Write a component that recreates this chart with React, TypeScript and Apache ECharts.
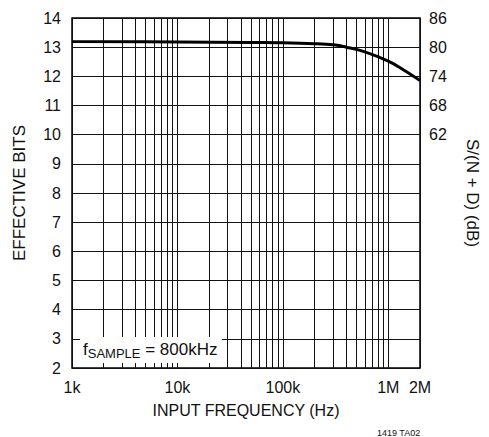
import React, { useEffect, useRef } from "react";
import * as echarts from "echarts";

const freqs = [1000, 10000, 50000, 100000, 200000, 300000, 400000, 600000, 1000000, 1400000, 2000000];
const bits = [13.19, 13.18, 13.16, 13.15, 13.12, 13.08, 13.0, 12.84, 12.52, 12.22, 11.86];
const minorFreqs = [
  2000, 3000, 4000, 5000, 6000, 7000, 8000, 9000,
  20000, 30000, 40000, 50000, 60000, 70000, 80000, 90000,
  200000, 300000, 400000, 500000, 600000, 700000, 800000, 900000,
];
const xLabels: Record<string, string> = {
  "1000": "1k",
  "10000": "10k",
  "100000": "100k",
  "1000000": "1M",
  "2000000": "2M",
};
const FONT = "'Liberation Sans Narrow', 'Arial Narrow', 'Liberation Sans', Arial, sans-serif";

export default function App() {
  const ref = useRef<HTMLDivElement>(null);
  useEffect(() => {
    if (!ref.current) return;
    const chart = echarts.init(ref.current, undefined, { renderer: "svg" });
    const data = freqs.map((f, i) => [f, bits[i]]);
    chart.setOption({
      animation: false,
      backgroundColor: "#fff",
      textStyle: { fontFamily: FONT },
      grid: {
        left: 72,
        right: 65,
        top: 18,
        bottom: 69,
        show: true,
        borderColor: "#000",
        borderWidth: 1.5,
        backgroundColor: "transparent",
      },
      xAxis: {
        type: "log",
        logBase: 10,
        min: 1000,
        max: 2000000,
        name: "INPUT FREQUENCY (Hz)",
        nameLocation: "middle",
        nameGap: 34,
        nameTextStyle: { fontSize: 16, color: "#111", fontFamily: FONT },
        axisLine: { show: false },
        axisTick: { show: false },
        splitLine: { show: true, lineStyle: { color: "#111", width: 1 } },
        axisLabel: {
          margin: 11,
          fontSize: 16,
          color: "#111",
          fontFamily: FONT,
          showMinLabel: true,
          showMaxLabel: true,
          formatter: (v: number) => {
            const k = String(Math.round(v / 1000) * 1000);
            return xLabels[k] ?? "";
          },
        },
      },
      yAxis: [
        {
          type: "value",
          min: 2,
          max: 14,
          interval: 1,
          name: "EFFECTIVE BITS",
          nameLocation: "middle",
          nameRotate: 90,
          nameGap: 44,
          nameTextStyle: { fontSize: 17, color: "#111", fontFamily: FONT },
          axisLine: { show: false },
          axisTick: { show: false },
          splitLine: { show: true, lineStyle: { color: "#111", width: 1 } },
          axisLabel: { margin: 11, fontSize: 16, color: "#111", fontFamily: FONT },
        },
        {
          type: "value",
          position: "right",
          min: 2,
          max: 14,
          interval: 1,
          name: "S/(N + D) (dB)",
          nameLocation: "middle",
          nameRotate: -90,
          nameGap: 44,
          nameTextStyle: { fontSize: 17, color: "#111", fontFamily: FONT },
          axisLine: { show: false },
          axisTick: { show: false },
          splitLine: { show: false },
          axisLabel: {
            margin: 9,
            fontSize: 16,
            color: "#111",
            fontFamily: FONT,
            formatter: (v: number) => (v >= 10 ? String(6 * v + 2) : ""),
          },
        },
      ],
      series: [
        {
          type: "line",
          data,
          smooth: 0.4,
          showSymbol: false,
          symbol: "none",
          lineStyle: { color: "#000", width: 3 },
          z: 5,
          markLine: {
            silent: true,
            symbol: "none",
            label: { show: false },
            lineStyle: { color: "#111", width: 1, type: "solid" },
            data: minorFreqs.map((f) => ({ xAxis: f })),
            z: 1,
          },
        },
      ],
      graphic: [
        {
          type: "rect",
          z: 100,
          shape: { x: 80, y: 337, width: 142, height: 26 },
          style: { fill: "#fff" },
        },
        {
          type: "text",
          z: 101,
          x: 83,
          y: 338,
          style: {
            text: "{a|f}{b|SAMPLE}{a| = 800kHz}",
            fill: "#111",
            rich: {
              a: { fontSize: 17, lineHeight: 22, fontFamily: FONT, fill: "#111" },
              b: { fontSize: 13, lineHeight: 13, verticalAlign: "bottom", fontFamily: FONT, fill: "#111" },
            },
          },
        },
        {
          type: "text",
          z: 101,
          x: 377,
          y: 428,
          style: { text: "1419 TA02", fontSize: 9, fill: "#111", fontFamily: FONT },
        },
      ],
    });
    return () => chart.dispose();
  }, []);
  return (
    <div
      ref={ref}
      style={{ position: "fixed", left: 0, top: 0, width: 489, height: 437 }}
    />
  );
}
